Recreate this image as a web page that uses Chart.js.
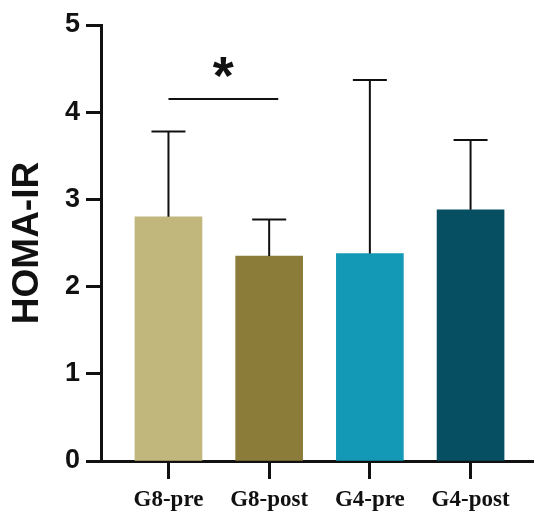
<!DOCTYPE html>
<html>
<head>
<meta charset="utf-8">
<script src="https://cdn.jsdelivr.net/npm/chart.js@4"></script>
<style>
html,body{margin:0;padding:0;background:#fff;}
#wrap{width:534px;height:513px;position:relative;}
</style>
</head>
<body>
<div id="wrap"><canvas id="c" width="534" height="513"></canvas></div>
<script>
const categories = ['G8-pre', 'G8-post', 'G4-pre', 'G4-post'];
const meanValues = [2.80, 2.35, 2.38, 2.88];
const sdValues = [0.98, 0.42, 1.99, 0.80];
const barColors = ['#C1B77C', '#8B7C3A', '#1399B5', '#064F62'];
const yTicks = [0, 1, 2, 3, 4, 5];
const sigPair = [0, 1.09];
const sigLevel = 4.15;
const sigMark = '*';

const errorBarPlugin = {
  id: 'errorBars',
  afterDatasetsDraw(chart) {
    const ctx = chart.ctx;
    const xs = chart.scales.x, ys = chart.scales.y;
    ctx.save();
    ctx.strokeStyle = '#111';
    ctx.lineWidth = 2;
    meanValues.forEach((m, i) => {
      const x = xs.getPixelForValue(i);
      const y0 = ys.getPixelForValue(m);
      const y1 = ys.getPixelForValue(m + sdValues[i]);
      ctx.beginPath();
      ctx.moveTo(x, y0);
      ctx.lineTo(x, y1);
      ctx.moveTo(x - 17, y1);
      ctx.lineTo(x + 17, y1);
      ctx.stroke();
    });
    // significance line
    const sx0 = xs.getPixelForValue(sigPair[0]);
    const sx1 = xs.getPixelForValue(sigPair[1]);
    const sy = ys.getPixelForValue(sigLevel);
    ctx.beginPath();
    ctx.moveTo(sx0, sy);
    ctx.lineTo(sx1, sy);
    ctx.stroke();
    ctx.fillStyle = '#111';
    ctx.font = 'bold 54px "Liberation Sans", Arial, sans-serif';
    ctx.textAlign = 'center';
    ctx.textBaseline = 'alphabetic';
    ctx.fillText(sigMark, (sx0 + sx1) / 2, sy - 5);
    ctx.restore();
  }
};

new Chart(document.getElementById('c'), {
  type: 'bar',
  data: {
    datasets: [{
      data: meanValues.map((v, i) => ({ x: i, y: v })),
      backgroundColor: barColors,
      borderWidth: 0,
      barThickness: 67
    }]
  },
  options: {
    responsive: false,
    animation: false,
    events: [],
    layout: { padding: { top: 25, right: 0, left: 0, bottom: 0 } },
    plugins: { legend: { display: false }, tooltip: { enabled: false } },
    scales: {
      x: {
        type: 'linear',
        min: -0.67,
        max: 3.63,
        offset: false,
        afterBuildTicks(scale) { scale.ticks = categories.map((c, i) => ({ value: i })); },
        afterFit(scale) { scale.height = 52; },
        ticks: {
          callback: (v) => categories[v],
          color: '#111',
          font: { family: '"Liberation Serif", "Times New Roman", serif', weight: 'bold', size: 23 },
          padding: 7,
          maxRotation: 0,
          autoSkip: false
        },
        grid: { offset: false, drawOnChartArea: false, tickLength: 18, tickWidth: 3, tickColor: '#111' },
        border: { display: true, color: '#111', width: 3 }
      },
      y: {
        min: 0,
        max: 5,
        afterBuildTicks(scale) { scale.ticks = yTicks.map(v => ({ value: v })); },
        afterFit(scale) { scale.width = 101; },
        ticks: {
          color: '#111',
          font: { family: '"Liberation Sans", Arial, sans-serif', weight: 'bold', size: 27 },
          padding: 6
        },
        grid: { drawOnChartArea: false, tickLength: 15, tickWidth: 3, tickColor: '#111' },
        border: { display: true, color: '#111', width: 3 },
        title: {
          display: true,
          text: 'HOMA-IR',
          color: '#111',
          font: { family: '"Liberation Sans", Arial, sans-serif', weight: 'bold', size: 37 },
          padding: { top: 6, bottom: 0 }
        }
      }
    }
  },
  plugins: [errorBarPlugin]
});
</script>
</body>
</html>
